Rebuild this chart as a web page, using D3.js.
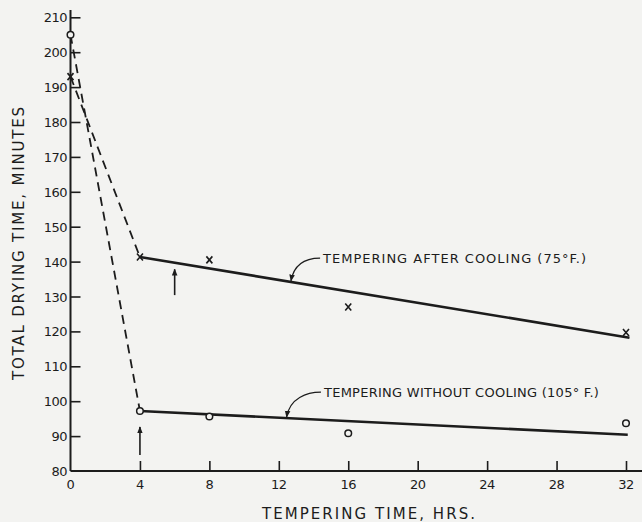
<!DOCTYPE html>
<html>
<head>
<meta charset="utf-8">
<script src="https://cdn.jsdelivr.net/npm/d3@7/dist/d3.min.js"></script>
<style>
  html, body { margin: 0; padding: 0; background: #f3f3f1; }
  svg { display: block; }
  text { font-family: "DejaVu Sans", sans-serif; fill: #1c1c1c; }
</style>
</head>
<body>
<svg id="chart" width="642" height="522"></svg>
<script>
// ---- data ----
const hours = [0, 4, 8, 16, 32];
const afterCooling = [193, 141.3, 140.5, 127, 119.7];     // x markers
const withoutCooling = [205, 97.2, 95.6, 90.8, 93.7];     // open circles
const afterFitHours = [4, 32.2];
const afterFitValues = [141.3, 118.2];
const withoutFitHours = [4, 32.1];
const withoutFitValues = [97.2, 90.4];
const xTicks = [0, 4, 8, 12, 16, 20, 24, 28, 32];
const yTicks = [80, 90, 100, 110, 120, 130, 140, 150, 160, 170, 180, 190, 200, 210];
const arrowHours = [6, 4];
const arrowFrom = [130.4, 84.6];
const arrowTo = [137.8, 92.6];
const labelTexts = ["TEMPERING AFTER COOLING (75\u00B0F.)", "TEMPERING WITHOUT COOLING (105\u00B0 F.)"];
const labelHours = [14.55, 14.6];
const labelValues = [141, 102.6];
const leaderHours = [12.7, 12.45];
const xTitle = "TEMPERING TIME, HRS.";
const yTitle = "TOTAL DRYING TIME, MINUTES";

const ink = "#1c1c1c";
const svg = d3.select("#chart");
const x = d3.scaleLinear().domain([0, 32]).range([70.5, 626]);
const y = d3.scaleLinear().domain([80, 210]).range([471, 17.3]);

// arrowhead marker
const defs = svg.append("defs");
defs.append("marker").attr("id", "head").attr("viewBox", "0 0 10 10")
  .attr("refX", 9).attr("refY", 5).attr("markerWidth", 7).attr("markerHeight", 7)
  .attr("markerUnits", "userSpaceOnUse").attr("orient", "auto")
  .append("path").attr("d", "M0,1 L10,5 L0,9 Z").attr("fill", ink);

// axes lines
svg.append("line").attr("x1", x(0)).attr("x2", x(0)).attr("y1", 10).attr("y2", y(80))
  .attr("stroke", ink).attr("stroke-width", 2);
svg.append("line").attr("x1", x(0)).attr("x2", 642).attr("y1", y(80)).attr("y2", y(80))
  .attr("stroke", ink).attr("stroke-width", 2);

// y axis ticks (inward) using d3 axis
const yAxis = d3.axisRight(y).tickValues(yTicks.filter(v => v > 80)).tickSize(10).tickFormat("");
const yg = svg.append("g").attr("transform", `translate(${x(0)},0)`).call(yAxis);
yg.select(".domain").remove();
yg.selectAll(".tick line").attr("stroke", ink).attr("stroke-width", 1.6);
svg.append("g").selectAll("text").data(yTicks).join("text")
  .attr("x", 67).attr("y", d => y(d) + 5).attr("text-anchor", "end")
  .attr("font-size", 13).attr("letter-spacing", -0.5).text(d => d);

// x axis ticks (inward/upward)
const xAxis = d3.axisTop(x).tickValues(xTicks.filter(v => v > 0)).tickSize(10).tickFormat("");
const xg = svg.append("g").attr("transform", `translate(0,${y(80)})`).call(xAxis);
xg.select(".domain").remove();
xg.selectAll(".tick line").attr("stroke", ink).attr("stroke-width", 1.6);
svg.append("g").selectAll("text").data(xTicks).join("text")
  .attr("x", d => x(d)).attr("y", 489).attr("text-anchor", "middle")
  .attr("font-size", 13).attr("letter-spacing", -0.5).text(d => d);

// axis titles
svg.append("text").attr("x", 262).attr("y", 519).attr("font-size", 15)
  .attr("textLength", 213).attr("lengthAdjust", "spacing").text(xTitle);
svg.append("text").attr("transform", "translate(24,380) rotate(-90)")
  .attr("x", 0).attr("y", 0).attr("font-size", 15)
  .attr("textLength", 273).attr("lengthAdjust", "spacing").text(yTitle);

// dashed connectors 0 -> 4 hr
const line = d3.line().x(d => x(d[0])).y(d => y(d[1]));
[afterCooling, withoutCooling].forEach(vals => {
  svg.append("path").attr("d", line([[hours[0], vals[0]], [hours[1], vals[1]]]))
    .attr("fill", "none").attr("stroke", ink).attr("stroke-width", 1.8)
    .attr("stroke-dasharray", "9,6");
});

// fitted solid lines
svg.append("path").attr("d", line(afterFitHours.map((h, i) => [h, afterFitValues[i]])))
  .attr("fill", "none").attr("stroke", ink).attr("stroke-width", 2.6);
svg.append("path").attr("d", line(withoutFitHours.map((h, i) => [h, withoutFitValues[i]])))
  .attr("fill", "none").attr("stroke", ink).attr("stroke-width", 2.6);

// x markers
const xm = svg.append("g");
hours.forEach((h, i) => {
  const cx = x(h), cy = y(afterCooling[i]);
  xm.append("path").attr("d", `M${cx - 3},${cy - 3.5} L${cx + 3},${cy + 3.5} M${cx + 3},${cy - 3.5} L${cx - 3},${cy + 3.5}`)
    .attr("stroke", ink).attr("stroke-width", 1.6).attr("fill", "none");
});
// circles
svg.append("g").selectAll("circle").data(hours).join("circle")
  .attr("cx", d => x(d)).attr("cy", (d, i) => y(withoutCooling[i])).attr("r", 3.3)
  .attr("fill", "#f3f3f1").attr("stroke", ink).attr("stroke-width", 1.5);

// vertical arrows
arrowHours.forEach((h, i) => {
  svg.append("line").attr("x1", x(h)).attr("x2", x(h))
    .attr("y1", y(arrowFrom[i])).attr("y2", y(arrowTo[i]))
    .attr("stroke", ink).attr("stroke-width", 1.6).attr("marker-end", "url(#head)");
});

// labels with curved leaders
const fitVal = (hs, vs, h) => vs[0] + (vs[1] - vs[0]) * (h - hs[0]) / (hs[1] - hs[0]);
const fits = [[afterFitHours, afterFitValues], [withoutFitHours, withoutFitValues]];
labelTexts.forEach((t, i) => {
  const tx = x(labelHours[i]), ty = y(labelValues[i]);
  const lx = x(leaderHours[i]), ly = y(fitVal(fits[i][0], fits[i][1], leaderHours[i])) - 1;
  const sx = tx - 3, sy = ty;
  svg.append("path")
    .attr("d", `M${sx},${sy} C${sx - 14},${sy} ${lx + 3},${sy + 6} ${lx},${ly}`)
    .attr("fill", "none").attr("stroke", ink).attr("stroke-width", 1.2)
    .attr("marker-end", "url(#head)");
  svg.append("text").attr("x", tx).attr("y", ty + 5).attr("font-size", 13)
    .attr("textLength", i === 0 ? 263 : 275).attr("lengthAdjust", "spacing").text(t);
});
</script>
</body>
</html>
